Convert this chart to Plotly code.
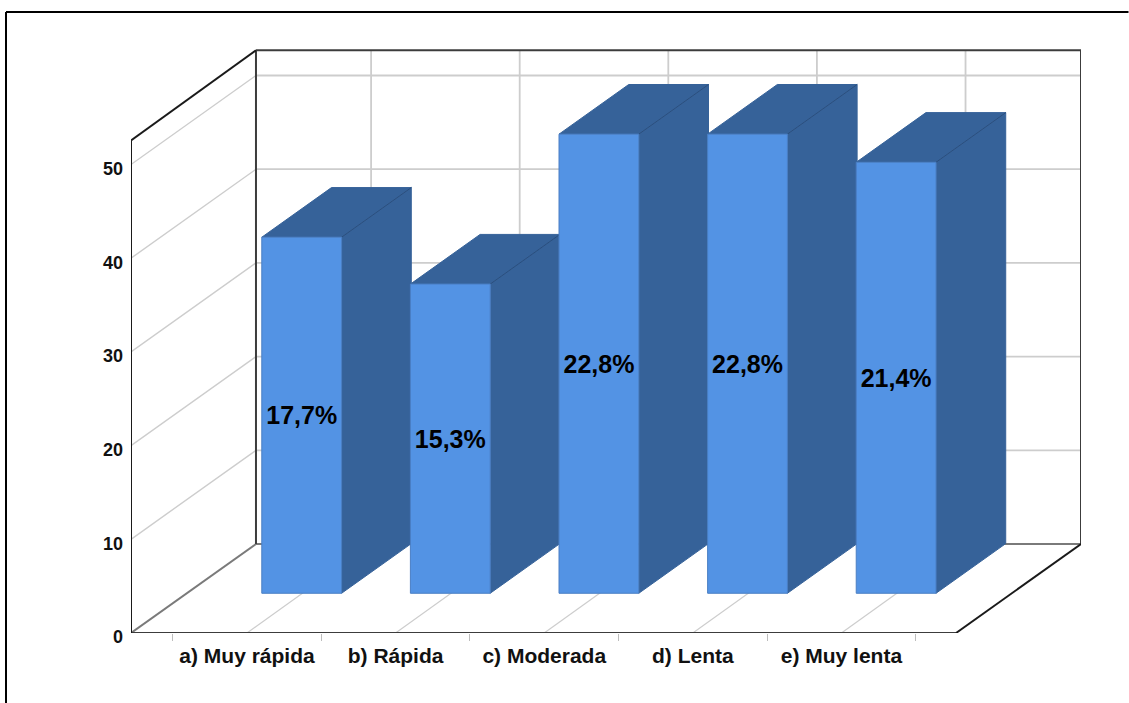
import plotly.graph_objects as go

# ---- data ----
categories = ["a) Muy rápida", "b) Rápida", "c) Moderada", "d) Lenta", "e) Muy lenta"]
counts = [38, 33, 49, 49, 46]
percent_labels = ["17,7%", "15,3%", "22,8%", "22,8%", "21,4%"]
y_ticks = [0, 10, 20, 30, 40, 50]

# ---- oblique projection settings, in axis units ----
X_LEFT, X_RIGHT = -0.7806, 5.612
Y_TOP_FRONT, Y_TOP_BACK, Y_RANGE_TOP = 52.56, 62.2, 62.33
X_FRONT_RIGHT = X_LEFT + 825 / 148.6
WALL_DX, WALL_DY = 0.841, 9.5
GRID_DX = 0.835
BAR_SHIFT, BAR_LIFT = 0.368, 4.24
BAR_WIDTH, BAR_DX, BAR_DY = 0.537, 0.469, 5.30

FRONT, SIDE = "#5393e4", "#366299"
FRONT_EDGE, SIDE_EDGE = "#4a7fc4", "#2b4f7e"
GRID = "#cdcdcd"
FONT = "Liberation Sans"

idx = list(range(len(categories)))
fig = go.Figure()


def segments(pairs, color, width):
    xs, ys = [], []
    for (x0, y0), (x1, y1) in pairs:
        xs += [x0, x1, None]
        ys += [y0, y1, None]
    fig.add_trace(go.Scatter(x=xs, y=ys, mode="lines", cliponaxis=False,
                             line=dict(color=color, width=width), hoverinfo="skip"))


# light grid on walls and floor
segments([((X_LEFT + WALL_DX, v + WALL_DY), (X_RIGHT, v + WALL_DY)) for v in y_ticks[1:]], GRID, 1.8)
segments([((X_LEFT, v), (X_LEFT + WALL_DX, v + WALL_DY)) for v in y_ticks[1:]], GRID, 1.4)
segments([((i + GRID_DX, WALL_DY), (i + GRID_DX, Y_TOP_BACK)) for i in idx], GRID, 1.8)
segments([((i, 0), (i + GRID_DX, WALL_DY)) for i in idx], GRID, 1.2)

# cage
segments([((X_LEFT + WALL_DX, WALL_DY), (X_RIGHT, WALL_DY)),
          ((X_LEFT, 0), (X_LEFT + WALL_DX, WALL_DY))], "#7a7a7a", 2)
segments([((X_LEFT + WALL_DX, WALL_DY), (X_LEFT + WALL_DX, Y_TOP_BACK)),
          ((X_LEFT + WALL_DX, Y_TOP_BACK), (X_RIGHT, Y_TOP_BACK)),
          ((X_RIGHT, WALL_DY), (X_RIGHT, Y_TOP_BACK)),
          ((X_LEFT, 0), (X_FRONT_RIGHT, 0))], "#3c3c3c", 2)
segments([((X_LEFT, 0), (X_LEFT, Y_TOP_FRONT)),
          ((X_LEFT, Y_TOP_FRONT), (X_LEFT + WALL_DX, Y_TOP_BACK)),
          ((X_FRONT_RIGHT, 0), (X_RIGHT, WALL_DY))], "#1a1a1a", 2)

# side and top faces of each bar
for i, c in zip(idx, counts):
    x0 = i + BAR_SHIFT - BAR_WIDTH / 2
    x1 = i + BAR_SHIFT + BAR_WIDTH / 2
    y0, y1 = BAR_LIFT, BAR_LIFT + c
    fig.add_trace(go.Scatter(
        x=[x1, x1 + BAR_DX, x1 + BAR_DX, x1, x1],
        y=[y0, y0 + BAR_DY, y1 + BAR_DY, y1, y0],
        mode="lines", fill="toself", fillcolor=SIDE, line=dict(color=SIDE, width=1), hoverinfo="skip"))
    fig.add_trace(go.Scatter(
        x=[x0, x1, x1 + BAR_DX, x0 + BAR_DX, x0],
        y=[y1, y1, y1 + BAR_DY, y1 + BAR_DY, y1],
        mode="lines", fill="toself", fillcolor=SIDE, line=dict(color=SIDE, width=1), hoverinfo="skip"))
    segments([((x1, y1), (x1 + BAR_DX, y1 + BAR_DY))], SIDE_EDGE, 1)

# front faces, on an overlaid copy of the axes so they stay above the sides
fig.add_trace(go.Bar(
    x=[i + BAR_SHIFT for i in idx], y=counts, base=BAR_LIFT, width=BAR_WIDTH,
    xaxis="x2", yaxis="y2",
    marker=dict(color=FRONT, line=dict(color=FRONT_EDGE, width=1)),
    text=percent_labels, textposition="inside", insidetextanchor="middle", textangle=0,
    constraintext="none",
    insidetextfont=dict(family=FONT, size=25, color="black", weight="bold"),
    hoverinfo="skip"))

fig.update_layout(
    width=1129, height=703, autosize=False,
    margin=dict(l=131, r=48, t=49, b=70, pad=0),
    paper_bgcolor="white", plot_bgcolor="white", showlegend=False, barmode="overlay",
    font=dict(family=FONT, color="#111"),
    xaxis=dict(range=[X_LEFT, X_RIGHT], tickmode="array", tickvals=idx, ticktext=categories,
               showgrid=False, zeroline=False, showline=False, ticks="", ticklen=0,
               ticklabelstandoff=8,
               tickfont=dict(family=FONT, size=21, color="#111", weight="bold"),
               minor=dict(tickmode="array", tickvals=[i - 0.5 for i in idx + [len(idx)]],
                          ticks="outside", ticklen=7, tickwidth=1, tickcolor="#bdbdbd", showgrid=False)),
    yaxis=dict(range=[0, Y_RANGE_TOP], tickmode="array", tickvals=y_ticks,
               showgrid=False, zeroline=False, showline=False, ticks="",
               ticklabelstandoff=7, ticklabelshift=4,
               tickfont=dict(family=FONT, size=18, color="#111", weight="bold")),
    xaxis2=dict(range=[X_LEFT, X_RIGHT], overlaying="x", visible=False),
    yaxis2=dict(range=[0, Y_RANGE_TOP], overlaying="y", visible=False),
    shapes=[
        dict(type="line", xref="paper", yref="paper", x0=-125 / 950, x1=1.05, y0=1.0634, y1=1.0634,
             line=dict(color="black", width=2)),
        dict(type="line", xref="paper", yref="paper", x0=-125 / 950, x1=-125 / 950, y0=1.0634, y1=-0.12,
             line=dict(color="black", width=2)),
    ],
)

fig.write_html("out.html", config={"displayModeBar": False},
               post_script="document.body.style.margin='0';document.body.style.overflow='hidden';")
